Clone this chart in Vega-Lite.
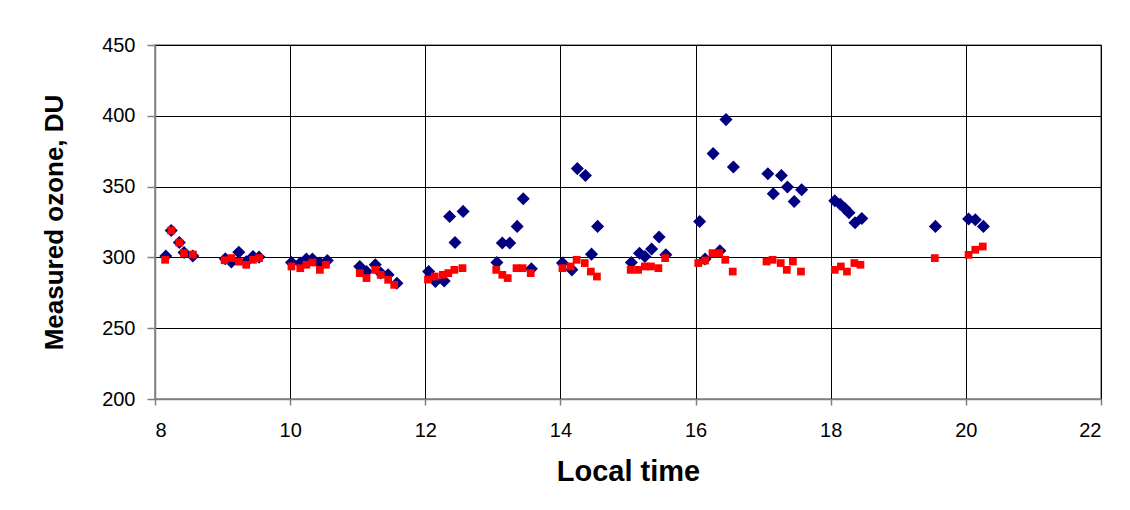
{
  "$schema": "https://vega.github.io/schema/vega-lite/v6.json",
  "autosize": "none",
  "width": 946,
  "height": 354,
  "padding": {"left": 155, "top": 45, "right": 29, "bottom": 111},
  "background": "white",
  "config": {
    "view": {"stroke": "#808080", "strokeWidth": 1.5},
    "font": "Liberation Sans",
    "axis": {
      "labelFont": "Liberation Sans",
      "titleFont": "Liberation Sans",
      "labelColor": "black",
      "titleColor": "black",
      "gridColor": "black",
      "gridOpacity": 1,
      "gridWidth": 1,
      "domainColor": "#808080",
      "domainWidth": 1.5,
      "tickColor": "#808080",
      "tickWidth": 1.5
    }
  },
  "data": {
    "values": [
      {"t": 8.16, "v": 301, "s": "A"},
      {"t": 8.24, "v": 319, "s": "A"},
      {"t": 8.36, "v": 310.5, "s": "A"},
      {"t": 8.43, "v": 303.5, "s": "A"},
      {"t": 8.56, "v": 301, "s": "A"},
      {"t": 9.04, "v": 299, "s": "A"},
      {"t": 9.13, "v": 296.7, "s": "A"},
      {"t": 9.24, "v": 303.7, "s": "A"},
      {"t": 9.35, "v": 297, "s": "A"},
      {"t": 9.45, "v": 300.6, "s": "A"},
      {"t": 9.54, "v": 300.2, "s": "A"},
      {"t": 10.02, "v": 296.4, "s": "A"},
      {"t": 10.15, "v": 296, "s": "A"},
      {"t": 10.24, "v": 298.8, "s": "A"},
      {"t": 10.33, "v": 298.8, "s": "A"},
      {"t": 10.44, "v": 296, "s": "A"},
      {"t": 10.55, "v": 297.8, "s": "A"},
      {"t": 11.03, "v": 293.6, "s": "A"},
      {"t": 11.13, "v": 290, "s": "A"},
      {"t": 11.26, "v": 294.8, "s": "A"},
      {"t": 11.34, "v": 289, "s": "A"},
      {"t": 11.45, "v": 287.7, "s": "A"},
      {"t": 11.58, "v": 281.8, "s": "A"},
      {"t": 12.05, "v": 290, "s": "A"},
      {"t": 12.15, "v": 283, "s": "A"},
      {"t": 12.28, "v": 283.4, "s": "A"},
      {"t": 12.36, "v": 328.9, "s": "A"},
      {"t": 12.44, "v": 310.5, "s": "A"},
      {"t": 12.56, "v": 332.5, "s": "A"},
      {"t": 13.06, "v": 296.4, "s": "A"},
      {"t": 13.14, "v": 310.1, "s": "A"},
      {"t": 13.25, "v": 310.1, "s": "A"},
      {"t": 13.36, "v": 321.9, "s": "A"},
      {"t": 13.45, "v": 341.4, "s": "A"},
      {"t": 13.57, "v": 291.9, "s": "A"},
      {"t": 14.03, "v": 296, "s": "A"},
      {"t": 14.17, "v": 291.2, "s": "A"},
      {"t": 14.25, "v": 362.7, "s": "A"},
      {"t": 14.37, "v": 357.9, "s": "A"},
      {"t": 14.46, "v": 302.3, "s": "A"},
      {"t": 14.55, "v": 321.9, "s": "A"},
      {"t": 15.05, "v": 296.4, "s": "A"},
      {"t": 15.17, "v": 303, "s": "A"},
      {"t": 15.25, "v": 300.6, "s": "A"},
      {"t": 15.35, "v": 305.9, "s": "A"},
      {"t": 15.46, "v": 314.4, "s": "A"},
      {"t": 15.56, "v": 301.8, "s": "A"},
      {"t": 16.06, "v": 325.4, "s": "A"},
      {"t": 16.14, "v": 298.8, "s": "A"},
      {"t": 16.26, "v": 373.3, "s": "A"},
      {"t": 16.36, "v": 304.7, "s": "A"},
      {"t": 16.45, "v": 397.3, "s": "A"},
      {"t": 16.56, "v": 363.9, "s": "A"},
      {"t": 17.07, "v": 359.1, "s": "A"},
      {"t": 17.15, "v": 345, "s": "A"},
      {"t": 17.27, "v": 357.9, "s": "A"},
      {"t": 17.36, "v": 349.7, "s": "A"},
      {"t": 17.46, "v": 339.5, "s": "A"},
      {"t": 17.57, "v": 347.8, "s": "A"},
      {"t": 18.06, "v": 340, "s": "A"},
      {"t": 18.14, "v": 337.5, "s": "A"},
      {"t": 18.21, "v": 334.5, "s": "A"},
      {"t": 18.27, "v": 331.5, "s": "A"},
      {"t": 18.36, "v": 324.5, "s": "A"},
      {"t": 18.46, "v": 327.5, "s": "A"},
      {"t": 19.55, "v": 321.9, "s": "A"},
      {"t": 20.04, "v": 327.1, "s": "A"},
      {"t": 20.14, "v": 326.6, "s": "A"},
      {"t": 20.26, "v": 321.9, "s": "A"},
      {"t": 8.15, "v": 298.3, "s": "B"},
      {"t": 8.24, "v": 319, "s": "B"},
      {"t": 8.36, "v": 310.5, "s": "B"},
      {"t": 8.43, "v": 303, "s": "B"},
      {"t": 8.56, "v": 302, "s": "B"},
      {"t": 9.03, "v": 298, "s": "B"},
      {"t": 9.13, "v": 299.5, "s": "B"},
      {"t": 9.24, "v": 297, "s": "B"},
      {"t": 9.35, "v": 294.8, "s": "B"},
      {"t": 9.45, "v": 298.3, "s": "B"},
      {"t": 9.54, "v": 299.5, "s": "B"},
      {"t": 10.02, "v": 293.6, "s": "B"},
      {"t": 10.15, "v": 292.4, "s": "B"},
      {"t": 10.24, "v": 294.8, "s": "B"},
      {"t": 10.33, "v": 296.4, "s": "B"},
      {"t": 10.44, "v": 291.2, "s": "B"},
      {"t": 10.53, "v": 294.8, "s": "B"},
      {"t": 11.03, "v": 288.9, "s": "B"},
      {"t": 11.13, "v": 285.4, "s": "B"},
      {"t": 11.26, "v": 291.2, "s": "B"},
      {"t": 11.34, "v": 287.7, "s": "B"},
      {"t": 11.45, "v": 284.2, "s": "B"},
      {"t": 11.54, "v": 280.6, "s": "B"},
      {"t": 12.04, "v": 284.4, "s": "B"},
      {"t": 12.14, "v": 286.5, "s": "B"},
      {"t": 12.26, "v": 287.7, "s": "B"},
      {"t": 12.34, "v": 288.9, "s": "B"},
      {"t": 12.43, "v": 291.2, "s": "B"},
      {"t": 12.55, "v": 292.4, "s": "B"},
      {"t": 13.05, "v": 291.2, "s": "B"},
      {"t": 13.14, "v": 287.7, "s": "B"},
      {"t": 13.22, "v": 285.4, "s": "B"},
      {"t": 13.35, "v": 292.4, "s": "B"},
      {"t": 13.44, "v": 292.4, "s": "B"},
      {"t": 13.56, "v": 288.9, "s": "B"},
      {"t": 14.03, "v": 292.4, "s": "B"},
      {"t": 14.15, "v": 293.6, "s": "B"},
      {"t": 14.24, "v": 298.3, "s": "B"},
      {"t": 14.36, "v": 296, "s": "B"},
      {"t": 14.45, "v": 290, "s": "B"},
      {"t": 14.54, "v": 286.5, "s": "B"},
      {"t": 15.04, "v": 291.2, "s": "B"},
      {"t": 15.15, "v": 291.2, "s": "B"},
      {"t": 15.25, "v": 293.6, "s": "B"},
      {"t": 15.34, "v": 293.6, "s": "B"},
      {"t": 15.45, "v": 292.4, "s": "B"},
      {"t": 15.55, "v": 299.5, "s": "B"},
      {"t": 16.04, "v": 296, "s": "B"},
      {"t": 16.14, "v": 297.8, "s": "B"},
      {"t": 16.25, "v": 303, "s": "B"},
      {"t": 16.35, "v": 303, "s": "B"},
      {"t": 16.44, "v": 298.3, "s": "B"},
      {"t": 16.55, "v": 290, "s": "B"},
      {"t": 17.05, "v": 297.1, "s": "B"},
      {"t": 17.14, "v": 298.3, "s": "B"},
      {"t": 17.26, "v": 296, "s": "B"},
      {"t": 17.35, "v": 291.2, "s": "B"},
      {"t": 17.44, "v": 297.1, "s": "B"},
      {"t": 17.56, "v": 290, "s": "B"},
      {"t": 18.06, "v": 291.2, "s": "B"},
      {"t": 18.15, "v": 293.6, "s": "B"},
      {"t": 18.24, "v": 290, "s": "B"},
      {"t": 18.35, "v": 296, "s": "B"},
      {"t": 18.44, "v": 294.8, "s": "B"},
      {"t": 19.54, "v": 299.5, "s": "B"},
      {"t": 20.04, "v": 301.8, "s": "B"},
      {"t": 20.14, "v": 305.4, "s": "B"},
      {"t": 20.25, "v": 307.7, "s": "B"}
    ]
  },
  "mark": {"type": "point", "filled": true, "opacity": 1, "strokeWidth": 0},
  "encoding": {
    "x": {
      "field": "t", "type": "quantitative",
      "scale": {"domain": [8, 22], "nice": false, "zero": false},
      "axis": {"values": [8, 10, 12, 14, 16, 18, 20, 22], "title": "Local time",
        "labelFontSize": 20, "titleFontSize": 29, "titleFontWeight": "bold",
        "tickSize": 6, "labelPadding": 15, "titlePadding": 17}
    },
    "y": {
      "field": "v", "type": "quantitative",
      "scale": {"domain": [200, 450], "nice": false, "zero": false},
      "axis": {"values": [200, 250, 300, 350, 400, 450], "title": "Measured ozone, DU",
        "labelFontSize": 20, "titleFontSize": 26, "titleFontWeight": "bold",
        "tickSize": 8, "labelPadding": 12, "titlePadding": 34}
    },
    "color": {"field": "s", "type": "nominal", "scale": {"domain": ["A", "B"], "range": ["#000080", "#FF0000"]}, "legend": null},
    "shape": {"field": "s", "type": "nominal", "scale": {"domain": ["A", "B"], "range": ["diamond", "square"]}, "legend": null},
    "size": {"field": "s", "type": "nominal", "scale": {"domain": ["A", "B"], "range": [170, 60]}, "legend": null}
  }
}
